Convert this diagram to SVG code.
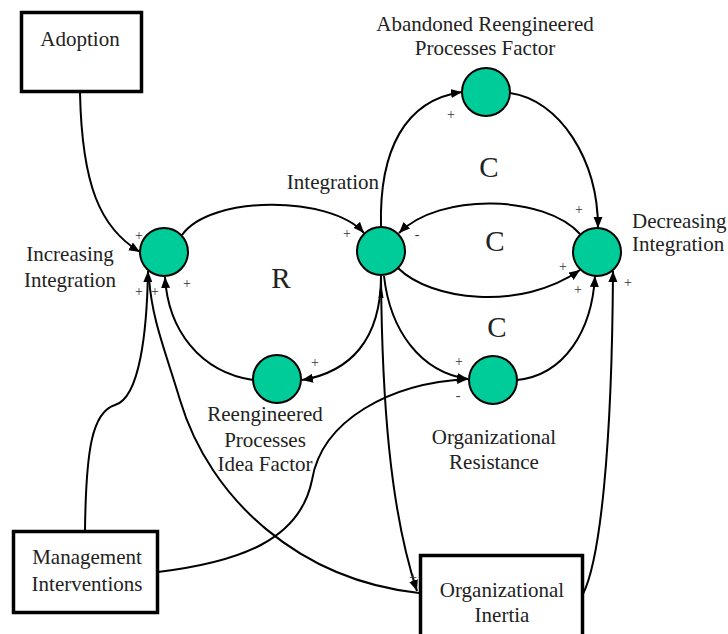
<svg xmlns="http://www.w3.org/2000/svg" width="728" height="634" viewBox="0 0 728 634">
<defs>
<marker id="ah" markerUnits="userSpaceOnUse" markerWidth="12" markerHeight="10" refX="11" refY="4.5" orient="auto">
<path d="M0,0 L11,4.5 L0,9 z" fill="#000"/>
</marker>
</defs>
<style>
text{font-family:"Liberation Serif","Times New Roman",serif;fill:#222}
.lbl{font-size:21px}
.big{font-size:29px}
.sg{font-size:14px;text-anchor:middle;fill:#333}
.mid{text-anchor:middle}
.box{fill:#fff;stroke:#000;stroke-width:3.5}
.node{fill:#00CC99;stroke:#000;stroke-width:2}
.cn{fill:none;stroke:#000;stroke-width:2}
.ar{marker-end:url(#ah)}
</style>
<rect width="728" height="634" fill="#fff"/>
<g id="connectors">
<path class="cn ar" d="M80,93 C82,185 100,228 140,252"/>
<path class="cn ar" d="M182,235 C210,195 330,195 364,233"/>
<path class="cn ar" d="M381,276 C381,340 350,372 302,380"/>
<path class="cn ar" d="M253,380 C200,372 168,330 165,277"/>
<path class="cn ar" d="M85,530 C86,450 92,412 115,405 C140,398 147,330 148,271"/>
<path class="cn" d="M419,593 C300,580 210,500 180,400 C165,350 152,320 149,278"/>
<path class="cn ar" d="M381,276 C382,400 390,510 417,591"/>
<path class="cn ar" d="M158,572 C240,562 300,540 312,480 C322,420 390,383 468,379"/>
<path class="cn ar" d="M384,276 C390,330 420,372 468,379"/>
<path class="cn ar" d="M517,380 C565,375 592,330 595,276"/>
<path class="cn ar" d="M583,594 C600,560 612,450 613,271"/>
<path class="cn ar" d="M398,268 C430,300 520,312 580,270"/>
<path class="cn ar" d="M580,234 C545,195 440,192 399,233"/>
<path class="cn ar" d="M381,227 C379,150 405,100 462,92"/>
<path class="cn ar" d="M510,93 C560,100 598,160 598,228"/>
<path d="M378.5,298 L381,283 L383.5,298 z" fill="#000"/>
</g>
<g id="adoption">
<rect class="box" x="21.5" y="12.5" width="120" height="79"/>
<text class="lbl mid" x="80" y="46">Adoption</text>
</g>
<g id="management-interventions">
<rect class="box" x="13.5" y="531.5" width="144" height="81"/>
<text class="lbl mid" x="87" y="564">Management</text>
<text class="lbl mid" x="87" y="591">Interventions</text>
</g>
<g id="organizational-inertia">
<rect class="box" x="420.5" y="555.5" width="162" height="90"/>
<text class="lbl mid" x="502" y="597">Organizational</text>
<text class="lbl mid" x="502" y="622">Inertia</text>
</g>
<g id="increasing-integration">
<circle class="node" cx="164" cy="252" r="24"/>
<text class="lbl mid" x="70" y="261">Increasing</text>
<text class="lbl mid" x="70" y="287">Integration</text>
</g>
<g id="integration">
<circle class="node" cx="381" cy="251" r="24"/>
<text class="lbl" x="379" y="189" text-anchor="end">Integration</text>
</g>
<g id="decreasing-integration">
<circle class="node" cx="597" cy="252" r="24"/>
<text class="lbl" x="632" y="228">Decreasing</text>
<text class="lbl" x="632" y="251">Integration</text>
</g>
<g id="abandoned-reengineered-processes-factor">
<circle class="node" cx="486" cy="92" r="24"/>
<text class="lbl mid" x="485" y="31">Abandoned Reengineered</text>
<text class="lbl mid" x="485" y="55">Processes Factor</text>
</g>
<g id="reengineered-processes-idea-factor">
<circle class="node" cx="277" cy="379" r="24"/>
<text class="lbl mid" x="265" y="421">Reengineered</text>
<text class="lbl mid" x="265" y="447">Processes</text>
<text class="lbl mid" x="265" y="471">Idea Factor</text>
</g>
<g id="organizational-resistance">
<circle class="node" cx="493" cy="380" r="24"/>
<text class="lbl mid" x="494" y="444">Organizational</text>
<text class="lbl mid" x="494" y="469">Resistance</text>
</g>
<g id="loop-labels">
<text class="big mid" x="281" y="288">R</text>
<text class="big mid" x="489" y="177">C</text>
<text class="big mid" x="495" y="251">C</text>
<text class="big mid" x="497" y="337">C</text>
</g>
<g id="polarities">
<text class="sg" x="139" y="240">+</text>
<text class="sg" x="347" y="238">+</text>
<text class="sg" x="187" y="288">+</text>
<text class="sg" x="139" y="296">+</text>
<text class="sg" x="155" y="296">+</text>
<text class="sg" x="315" y="367">+</text>
<text class="sg" x="451" y="119">+</text>
<text class="sg" x="579" y="214">+</text>
<text class="sg" x="417" y="239">-</text>
<text class="sg" x="563" y="271">+</text>
<text class="sg" x="578" y="294">+</text>
<text class="sg" x="628" y="287">+</text>
<text class="sg" x="459" y="366">+</text>
<text class="sg" x="458" y="400">-</text>
<text class="sg" x="413" y="582">+</text>
</g>
</svg>
